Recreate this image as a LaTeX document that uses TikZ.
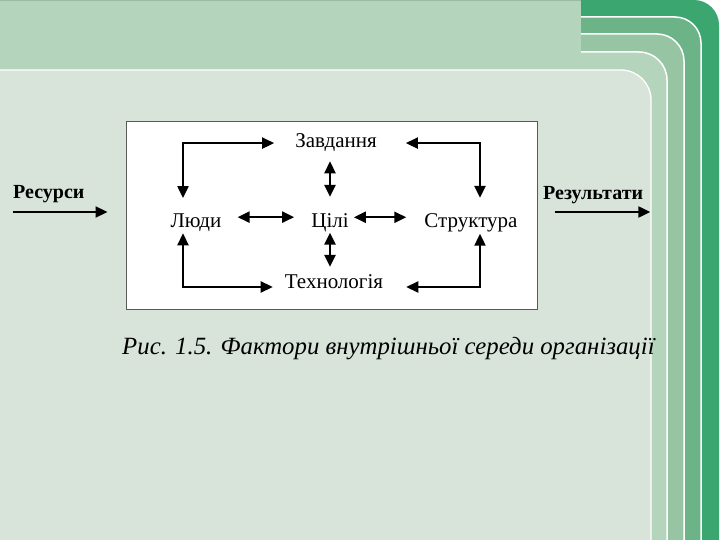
\documentclass[tikz,border=0pt]{standalone}
\usepackage{fontspec}
\setmainfont{Liberation Serif}
\usetikzlibrary{arrows.meta,positioning}
\definecolor{fon}{HTML}{D8E4DA}
\definecolor{smuga}{HTML}{B4D4BC}
\definecolor{zel1}{HTML}{97C4A3}
\definecolor{zel2}{HTML}{6CB488}
\definecolor{zel3}{HTML}{3BA66F}
\definecolor{liniya}{HTML}{98BCA2}
\definecolor{ramka}{HTML}{595959}

\begin{document}
\begin{tikzpicture}[x=1pt,y=-1pt,
    mitka/.style={font=\fontsize{21}{25}\selectfont, inner sep=0pt},
    vhid/.style={font=\fontsize{20}{24}\selectfont\bfseries, inner sep=0pt},
    zv/.style={line width=2.3pt, {Triangle[length=12pt,width=11pt]}-{Triangle[length=12pt,width=11pt]}},
    potik/.style={line width=2.3pt, -{Triangle[length=12pt,width=11pt]}}]
    \useasboundingbox (0,0) rectangle (720,540);
    \clip (0,0) rectangle (720,540);
    % Тло і зелені смуги праворуч
    \fill[white] (0,0) rectangle (720,540);
    \fill[zel3, rounded corners=25pt] (-50,0) rectangle (719,600);
    \filldraw[fill=zel2, draw=white, line width=1.5pt, rounded corners=26pt] (-50,17) rectangle (701,600);
    \filldraw[fill=zel1, draw=white, line width=1.5pt, rounded corners=27pt] (-50,34) rectangle (684,600);
    \filldraw[fill=smuga, draw=white, line width=1.5pt, rounded corners=28pt] (-50,52) rectangle (667,600);
    % Верхня смуга
    \fill[smuga] (0,0) rectangle (581,70);
    \draw[liniya, line width=2pt] (0,0) -- (581,0);
    \filldraw[fill=fon, draw=white, line width=1.3pt, rounded corners=30pt] (-50,70) rectangle (651,600);

    % Рамка схеми
    \node[draw=ramka, line width=1pt, fill=white, minimum width=411pt, minimum height=187pt, inner sep=0pt] (ramka) at (331.5,215.5) {};
    \node[mitka, anchor=base] (zavd) at (336,148) {Завдання};
    \node[mitka, anchor=base] (ludy) at (196,228) {Люди};
    \node[mitka, anchor=base] (tsili) at (330,228) {Цілі};
    \node[mitka, anchor=base] (strukt) at (471,228) {Структура};
    \node[mitka, anchor=base] (tekh) at (334,288) {Технологія};

    % Зв'язки
    \draw[zv, shorten <=16pt, shorten >=21pt] ([xshift=-13pt]ludy.north) |- (zavd.west);
    \draw[zv, shorten <=29pt, shorten >=16pt] (zavd.east) -| ([xshift=9pt]strukt.north);
    \draw[zv, shorten <=1pt, shorten >=12pt] ([xshift=-13pt]ludy.south) |- ([yshift=1pt]tekh.base west);
    \draw[zv, shorten <=23pt, shorten >=1pt] ([yshift=1pt]tekh.base east) -| ([xshift=9pt]strukt.south);
    \draw[zv, shorten <=9pt, shorten >=17pt] (zavd.south -| tsili.north) -- (tsili.north);
    \draw[zv, shorten >=7pt] (tsili.south) -- (tekh.north -| tsili.south);
    \draw[zv, shorten <=16pt, shorten >=17pt] ([yshift=6pt]ludy.east) -- ([yshift=6pt]ludy.east -| tsili.west);
    \draw[zv, shorten <=5pt, shorten >=18pt] ([yshift=6pt]tsili.east) -- ([yshift=6pt]tsili.east -| strukt.west);

    % Вхід і вихід
    \node[vhid, anchor=base west] (res) at (13,199) {Ресурси};
    \node[vhid, anchor=base west] (rez) at (543,200) {Результати};
    \draw[potik, shorten >=18pt] ([yshift=-13pt]res.base west) -- ([yshift=-13pt]res.base west -| ramka.west);
    \draw[potik, shorten <=17pt] ([yshift=-12pt]rez.base west -| ramka.east) -- ([yshift=-12pt,xshift=7pt]rez.base east);

    % Підпис
    \node[font=\fontsize{24.8}{29}\selectfont\itshape, inner sep=0pt, anchor=base west] (pidpys) at (122,354) {Рис. 1.5. Фактори внутрішньої середи організації};
\end{tikzpicture}
\end{document}
